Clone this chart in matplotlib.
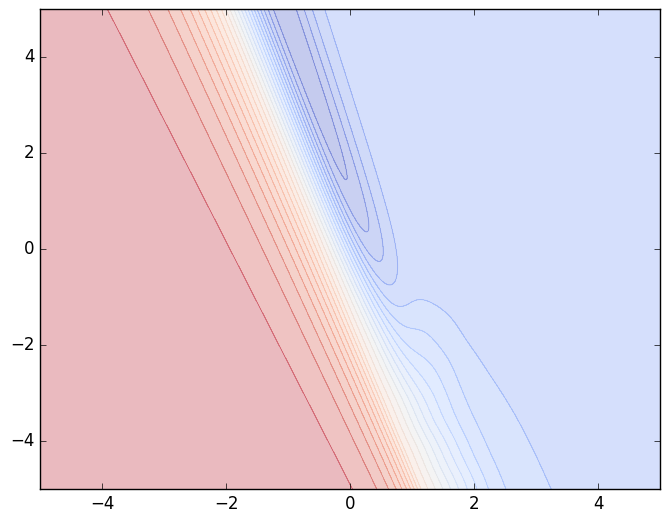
import numpy as np
import matplotlib.pyplot as plt

# shape of the surface (values in contour-level units:
# 0 = darkest blue band, 25 = red plateau)
slope, offset = 0.34, 0.5            # s = x + slope*y + offset runs across the boundary
centre = [0.05, 0.02]                # white line: a + b*y
width_left = [0.71, 0.036]           # red side spread: a + b*y
top_bottom_mid, top_bottom_soft = -0.9, 0.8
width_right = [0.73, 1.15]           # blue side spread (top, bottom)
knee = [6.0, 3.0]                    # how sharply the blue side flattens (top, bottom)
floor = 4.5                          # value of the blue plateau on the right
trough_depth, trough_mid, trough_soft = 4.6, -1.3, 1.0
trough_centre = [0.75, 0.07]         # a + b*y
trough_width = [0.28, 0.01]          # a + b*y
bump_x = [1.25, 1.3, 1.2, 1.4, 1.7]
bump_y = [-1.6, -2.4, -3.1, -4.1, -4.9]
bump_h = [0.3, 0.4, 0.4, 0.4, 0.5]
bump_r = [0.35, 0.35, 0.35, 0.35, 0.35]
n_levels = 25

xx, yy = np.meshgrid(np.linspace(-5, 5, 500), np.linspace(-5, 5, 500))

lam = 1 / (1 + np.exp(-(yy - top_bottom_mid) / top_bottom_soft))
mix = lambda pair: pair[1] + (pair[0] - pair[1]) * lam
lin = lambda pair: pair[0] + pair[1] * yy

s = xx + slope * yy + offset
sc = lin(centre)
wl = lin(width_left)
wr = mix(width_right)
p = mix(knee)

u = np.where(s < sc, (s - sc) / wl, (s - sc) / wr)
pp = np.where(s < sc, 2.0, p)
h = u / (1 + np.abs(u) ** pp) ** (1 / pp)
zdesc = n_levels / 2 * (1 - h)
z = zdesc + (1 - zdesc / n_levels) * floor

depth = trough_depth / (1 + np.exp(-(yy - trough_mid) / trough_soft))
z -= depth * np.exp(-0.5 * ((s - lin(trough_centre)) / lin(trough_width)) ** 2)
for bx, by, bh, br in zip(bump_x, bump_y, bump_h, bump_r):
    z += bh * np.exp(-((xx - bx) ** 2 + (yy - by) ** 2) / (2 * br ** 2))
z = np.clip(z, 0.01, n_levels - 0.01)

levels = np.arange(n_levels + 1)

plt.style.use('classic')
fig = plt.figure(figsize=(6.7, 5.23), dpi=100, facecolor='white')
ax = fig.add_axes([40 / 670, 34 / 523, 620 / 670, 480 / 523])
ax.contourf(xx, yy, z, levels=levels, cmap=plt.cm.coolwarm, alpha=0.3)
ax.contour(xx, yy, z, levels=levels[1:-1], cmap=plt.cm.coolwarm, alpha=0.3, linewidths=0.7)
ax.set_xlim(-5, 5)
ax.set_ylim(-5, 5)
ax.set_xticks([-4, -2, 0, 2, 4])
ax.set_yticks([-4, -2, 0, 2, 4])

fig.savefig('out.png', dpi=100, facecolor='white')
